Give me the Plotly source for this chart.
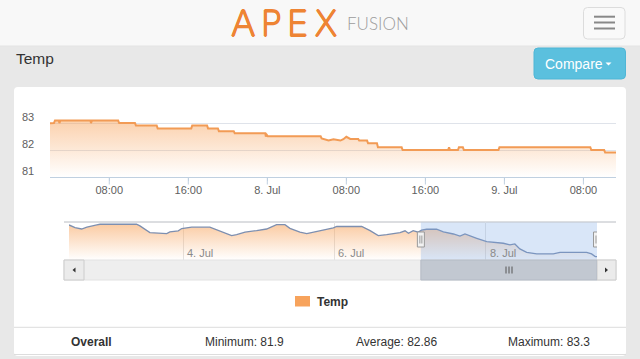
import plotly.graph_objects as go

# ---------------- data ----------------
main_times = [
    "2015-07-07 02:00", "2015-07-07 02:24", "2015-07-07 02:30", "2015-07-07 02:54", "2015-07-07 02:57",
    "2015-07-07 03:03", "2015-07-07 06:06", "2015-07-07 06:09", "2015-07-07 06:15", "2015-07-07 08:54",
    "2015-07-07 09:00", "2015-07-07 10:36", "2015-07-07 10:42", "2015-07-07 12:48", "2015-07-07 12:54",
    "2015-07-07 16:18", "2015-07-07 16:24", "2015-07-07 17:54", "2015-07-07 18:00", "2015-07-07 19:00",
    "2015-07-07 19:06", "2015-07-07 20:36", "2015-07-07 20:42", "2015-07-07 23:48", "2015-07-07 23:51",
    "2015-07-07 23:57", "2015-07-08 00:03", "2015-07-08 05:24", "2015-07-08 05:30", "2015-07-08 06:12",
    "2015-07-08 06:42", "2015-07-08 07:24", "2015-07-08 07:42", "2015-07-08 08:00", "2015-07-08 08:24",
    "2015-07-08 09:12", "2015-07-08 09:18", "2015-07-08 10:06", "2015-07-08 10:12", "2015-07-08 11:06",
    "2015-07-08 11:12", "2015-07-08 13:36", "2015-07-08 13:42", "2015-07-08 18:18", "2015-07-08 18:24",
    "2015-07-08 18:30", "2015-07-08 19:18", "2015-07-08 19:24", "2015-07-08 19:48", "2015-07-08 19:54",
    "2015-07-08 23:24", "2015-07-08 23:30", "2015-07-09 08:42", "2015-07-09 08:48", "2015-07-09 10:06",
    "2015-07-09 10:12", "2015-07-09 11:18",
]
main_temp = [
    82.99, 83.00, 83.09, 83.09, 83.00,
    83.09, 83.09, 83.00, 83.09, 83.09,
    83.00, 83.00, 82.91, 82.91, 82.80,
    82.80, 82.91, 82.91, 82.80, 82.80,
    82.70, 82.70, 82.62, 82.62, 82.50,
    82.56, 82.51, 82.51, 82.43, 82.35,
    82.40, 82.35, 82.40, 82.49, 82.41,
    82.41, 82.35, 82.35, 82.25, 82.25,
    82.10, 82.10, 82.00, 82.00, 82.10,
    82.00, 82.00, 82.10, 82.10, 82.00,
    82.00, 82.10, 82.10, 82.00, 82.00,
    81.91, 81.91,
]

nav_times = [
    "2015-07-02 11:50", "2015-07-02 13:45", "2015-07-02 15:50", "2015-07-02 17:30", "2015-07-02 20:40",
    "2015-07-02 21:40", "2015-07-03 09:15", "2015-07-03 10:20", "2015-07-03 13:30", "2015-07-03 18:50",
    "2015-07-03 19:50", "2015-07-03 22:30", "2015-07-03 23:35", "2015-07-04 02:45", "2015-07-04 08:30",
    "2015-07-04 11:45", "2015-07-04 15:25", "2015-07-04 17:00", "2015-07-04 19:40", "2015-07-04 23:20",
    "2015-07-05 02:30", "2015-07-05 05:40", "2015-07-05 08:20", "2015-07-05 09:55", "2015-07-05 13:05",
    "2015-07-05 15:15", "2015-07-05 17:50", "2015-07-05 19:25", "2015-07-05 21:35", "2015-07-05 23:40",
    "2015-07-06 00:45", "2015-07-06 08:40", "2015-07-06 11:20", "2015-07-06 13:55", "2015-07-06 16:35",
    "2015-07-06 18:40", "2015-07-06 20:50", "2015-07-06 22:25", "2015-07-06 23:30", "2015-07-07 01:00",
    "2015-07-07 02:35", "2015-07-07 03:40", "2015-07-07 05:15", "2015-07-07 08:25", "2015-07-07 10:35",
    "2015-07-07 13:45", "2015-07-07 15:50", "2015-07-07 17:25", "2015-07-07 19:00", "2015-07-07 21:10",
    "2015-07-08 00:20", "2015-07-08 05:35", "2015-07-08 07:40", "2015-07-08 09:15", "2015-07-08 10:50",
    "2015-07-08 13:00", "2015-07-08 16:10", "2015-07-08 21:25", "2015-07-08 23:35", "2015-07-09 08:00",
    "2015-07-09 09:35", "2015-07-09 10:45", "2015-07-09 11:18",
]
nav_temp = [
    83.31, 83.19, 83.13, 83.21, 83.31,
    83.34, 83.34, 83.27, 82.97, 82.93,
    83.00, 83.05, 83.15, 83.21, 83.21,
    83.02, 82.84, 82.88, 82.99, 83.06,
    83.13, 83.32, 83.32, 83.16, 82.99,
    82.93, 83.00, 83.05, 83.12, 83.18,
    83.24, 83.24, 83.06, 82.84, 82.88,
    82.94, 82.97, 83.05, 82.94, 83.06,
    82.99, 83.08, 83.12, 83.12, 83.00,
    82.91, 82.82, 82.91, 82.82, 82.72,
    82.57, 82.50, 82.43, 82.47, 82.25,
    82.10, 82.03, 82.03, 82.10, 82.10,
    82.03, 81.91, 81.91,
]

main_range = ["2015-07-07 02:00", "2015-07-09 11:18"]
nav_range = ["2015-07-02 11:50", "2015-07-09 11:18"]
nav_selection = ["2015-07-07 03:26", "2015-07-09 11:18"]

main_tick_vals = ["2015-07-07 08:00", "2015-07-07 16:00", "2015-07-08 00:00", "2015-07-08 08:00",
                  "2015-07-08 16:00", "2015-07-09 00:00", "2015-07-09 08:00"]
main_tick_text = ["08:00", "16:00", "8. Jul", "08:00", "16:00", "9. Jul", "08:00"]
y_tick_vals = [81, 82, 83, 84]
y_label_vals = [81, 82, 83]
nav_tick_vals = ["2015-07-04", "2015-07-06", "2015-07-08"]
nav_tick_text = ["4. Jul", "6. Jul", "8. Jul"]

series_name = "Temp"
stat_names = ["Minimum", "Average", "Maximum"]
stat_values = ["81.9", "82.86", "83.3"]

# ---------------- helpers ----------------
W, H = 640, 359
def X(px):
    return px / W
def Y(py):
    return 1 - py / H

def rrect(x0, y0, x1, y1, r):
    rx, ry = r / W, r / H
    a0, a1, b0, b1 = X(x0), X(x1), Y(y0), Y(y1)
    return (f"M{a0+rx},{b0} L{a1-rx},{b0} Q{a1},{b0} {a1},{b0-ry} L{a1},{b1+ry} "
            f"Q{a1},{b1} {a1-rx},{b1} L{a0+rx},{b1} Q{a0},{b1} {a0},{b1+ry} "
            f"L{a0},{b0-ry} Q{a0},{b0} {a0+rx},{b0} Z")

FONT = "Liberation Sans, Arial, Helvetica, sans-serif"
ORANGE = "#f7a35c"
LOGO = "#ee8434"

fig = go.Figure()

fig.add_trace(go.Scatter(
    x=main_times, y=main_temp, name=series_name, mode="lines",
    line=dict(color="#f29b55", width=2),
    fill="tozeroy",
    fillgradient=dict(type="vertical", start=81, stop=84,
                      colorscale=[[0, "rgba(247,163,92,0.0)"], [1, "rgba(247,163,92,0.72)"]]),
    xaxis="x", yaxis="y", showlegend=False, hoverinfo="skip",
))
fig.add_trace(go.Scatter(
    x=nav_times, y=nav_temp, name=series_name + " navigator", mode="lines",
    line=dict(color="#7d8fb0", width=1.3),
    fill="tozeroy",
    fillgradient=dict(type="vertical", start=81.76, stop=83.44,
                      colorscale=[[0, "rgba(247,163,92,0.0)"], [1, "rgba(247,163,92,0.6)"]]),
    xaxis="x2", yaxis="y2", showlegend=False, hoverinfo="skip",
))

shapes = []
def rect(x0, y0, x1, y1, fill, line="rgba(0,0,0,0)", lw=0, layer="below"):
    shapes.append(dict(type="rect", xref="paper", yref="paper", x0=X(x0), x1=X(x1), y0=Y(y1), y1=Y(y0),
                       fillcolor=fill, line=dict(color=line, width=lw), layer=layer))
def hline(x0, x1, y, color, w=1, layer="below"):
    shapes.append(dict(type="line", xref="paper", yref="paper", x0=X(x0), x1=X(x1), y0=Y(y), y1=Y(y),
                       line=dict(color=color, width=w), layer=layer))

# header
rect(0, 0, 640, 46, "#f8f8f8")
hline(0, 640, 46, "#e4e4e4")
shapes.append(dict(type="path", xref="paper", yref="paper", path=rrect(583.5, 7.5, 625, 39, 4),
                   fillcolor="#f9f9f9", line=dict(color="#dcdcdc", width=1), layer="below"))
for yy in (16.7, 22.5, 28.5):
    hline(594, 615, yy, "#888888", 2)
# compare button
shapes.append(dict(type="path", xref="paper", yref="paper", path=rrect(534, 48, 625.5, 79, 4),
                   fillcolor="#5bc0de", line=dict(color="#4fb6d6", width=1), layer="below"))
shapes.append(dict(type="path", xref="paper", yref="paper",
                   path=f"M{X(605.5)},{Y(62.5)} L{X(611.5)},{Y(62.5)} L{X(608.5)},{Y(65.5)} Z",
                   fillcolor="#ffffff", line=dict(width=0), layer="above"))
# white panel
shapes.append(dict(type="path", xref="paper", yref="paper", path=rrect(14, 87, 626, 356, 4),
                   fillcolor="#ffffff", line=dict(width=0), layer="below"))
hline(14, 626, 327.3, "#dddddd")
hline(14, 626, 354.5, "#dddddd")

# main x-axis tick marks
for tv in main_tick_vals:
    shapes.append(dict(type="line", xref="x", yref="paper", x0=tv, x1=tv, y0=Y(177), y1=Y(184.5),
                       line=dict(color="#c0d0e0", width=1), layer="above"))

# navigator outline
hline(64, 616, 222, "#b9bcc2")
# navigator mask
shapes.append(dict(type="rect", xref="x2", yref="paper", x0=nav_selection[0], x1=nav_selection[1],
                   y0=Y(260), y1=Y(222.5), fillcolor="rgba(120,165,230,0.28)", line=dict(width=0), layer="above"))
# scrollbar
rect(64, 260, 616, 280, "#eeeeee", "#e2e2e2", 1, "above")
rect(64, 260, 84, 280, "#ebebeb", "#cccccc", 1, "above")
rect(597, 260, 616, 280, "#ebebeb", "#cccccc", 1, "above")
shapes.append(dict(type="rect", xref="x2", yref="paper", x0=nav_selection[0], x1=nav_selection[1],
                   y0=Y(280), y1=Y(260), fillcolor="#c2c8d1", line=dict(color="#b4bbc5", width=1), layer="above"))
for off in (-3, 0, 3):
    shapes.append(dict(type="line", xref="paper", yref="paper", x0=X(509 + off), x1=X(509 + off),
                       y0=Y(266.5), y1=Y(273.5), line=dict(color="#555555", width=1), layer="above"))
shapes.append(dict(type="path", xref="paper", yref="paper",
                   path=f"M{X(72.5)},{Y(270)} L{X(75.5)},{Y(267.5)} L{X(75.5)},{Y(272.5)} Z",
                   fillcolor="#333333", line=dict(width=0), layer="above"))
shapes.append(dict(type="path", xref="paper", yref="paper",
                   path=f"M{X(608)},{Y(270)} L{X(605)},{Y(267.5)} L{X(605)},{Y(272.5)} Z",
                   fillcolor="#333333", line=dict(width=0), layer="above"))
# navigator handles
for anchor in nav_selection:
    shapes.append(dict(type="rect", xref="x2", yref="paper", xsizemode="pixel", xanchor=anchor,
                       x0=-3.5, x1=3.5, y0=Y(247), y1=Y(232),
                       fillcolor="#f2f2f2", line=dict(color="#999999", width=1), layer="above"))
    for off in (-1, 1):
        shapes.append(dict(type="line", xref="x2", yref="paper", xsizemode="pixel", xanchor=anchor,
                           x0=off, x1=off, y0=Y(243.5), y1=Y(235.5),
                           line=dict(color="#999999", width=1), layer="above"))

# legend symbol
rect(295, 296, 310, 306.5, ORANGE, layer="above")

annotations = []
def text(x, y, s, size, color, xanchor="center", bold=False, family=FONT, weight=None, shadow=None):
    f = dict(size=size, color=color, family=family)
    if weight is not None:
        f["weight"] = weight
    if shadow is not None:
        f["shadow"] = shadow
    annotations.append(dict(xref="paper", yref="paper", x=X(x), y=Y(y), text=("<b>%s</b>" % s) if bold else s,
                            showarrow=False, xanchor=xanchor, yanchor="middle", font=f))

logo_shadow = f"0.7px 0 0 {LOGO}, -0.7px 0 0 {LOGO}, 0 0.7px 0 {LOGO}, 0 -0.7px 0 {LOGO}"
text(287, 23.5, "APEX", 36, LOGO, xanchor="center",
     family="DejaVu Sans ExtraLight, DejaVu Sans, sans-serif", weight=200, shadow=logo_shadow)
text(345, 23, "FUSION", 17, "#9c9c9c", xanchor="left", family="Lato, Noto Sans, sans-serif", weight=300)
text(14, 59, "Temp", 15.5, "#333333", xanchor="left")
text(574, 63.5, "Compare", 14, "#ffffff")
text(315, 302, series_name, 12, "#333333", xanchor="left", bold=True)
text(91, 341.5, "Overall", 12, "#333333", bold=True)
for i, (nm, val) in enumerate(zip(stat_names, stat_values)):
    text(244 + 152.7 * i, 341.5, f"{nm}: {val}", 12, "#333333")

for v in y_label_vals:
    annotations.append(dict(xref="paper", yref="y", x=X(36), y=v, yshift=6, text=str(v), showarrow=False,
                            xanchor="right", yanchor="middle", font=dict(size=11, color="#606060", family=FONT)))
for d, t in zip(nav_tick_vals, nav_tick_text):
    annotations.append(dict(xref="x2", yref="paper", x=d, xshift=2, y=Y(252.5), text=t, showarrow=False,
                            xanchor="left", yanchor="middle", font=dict(size=11, color="#8a8a8a", family=FONT)))

fig.update_layout(
    width=W, height=H, margin=dict(l=0, r=0, t=0, b=0),
    paper_bgcolor="#e8e8e8", plot_bgcolor="rgba(0,0,0,0)",
    showlegend=False, shapes=shapes, annotations=annotations,
    xaxis=dict(domain=[X(50), X(616)], anchor="y", type="date", range=main_range,
               tickvals=main_tick_vals, ticktext=main_tick_text, ticks="outside", ticklen=3,
               tickcolor="#c0d0e0", showline=True, linecolor="#c0d0e0", linewidth=1,
               showgrid=False, zeroline=False, tickfont=dict(size=11, color="#606060", family=FONT)),
    yaxis=dict(domain=[Y(177), Y(96)], anchor="x", range=[80.999, 84.003], tickvals=y_tick_vals,
               showticklabels=False, showgrid=True, gridcolor="#dfe3ea", gridwidth=1, zeroline=False, ticks=""),
    xaxis2=dict(domain=[X(69), X(597)], anchor="y2", type="date", range=nav_range,
                tickvals=nav_tick_vals, showticklabels=False, showgrid=True, gridcolor="#e3e3e3",
                zeroline=False, ticks="", showline=False),
    yaxis2=dict(domain=[Y(260), Y(222)], anchor="x2", range=[81.76, 83.44], showticklabels=False,
                showgrid=False, zeroline=False, ticks=""),
)

post = ("document.body.style.margin='0';document.body.style.overflow='hidden';"
        "document.querySelectorAll('.annotation-text').forEach(function(t){"
        "if(t.textContent==='APEX'){t.style.letterSpacing='4.5px';}});")
fig.write_html("out.html", config={"displayModeBar": False}, post_script=post)
